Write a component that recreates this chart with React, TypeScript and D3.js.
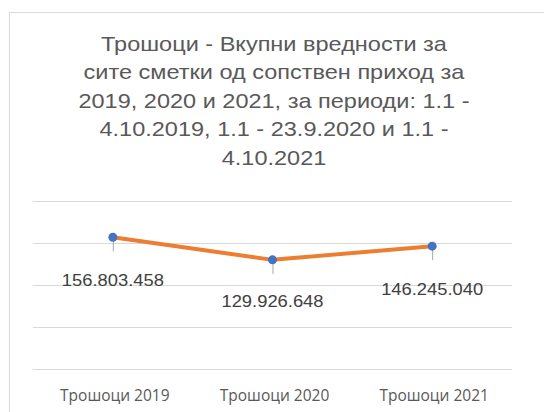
import React, { useEffect, useRef } from 'react'
import * as d3 from 'd3'

const categories = ['Трошоци 2019', 'Трошоци 2020', 'Трошоци 2021']
const values = [156803458, 129926648, 146245040]
const valueLabels = ['156.803.458', '129.926.648', '146.245.040']
const titleLines = [
    'Трошоци - Вкупни вредности за',
    'сите сметки од сопствен приход за',
    '2019, 2020 и 2021, за периоди: 1.1 -',
    '4.10.2019, 1.1 - 23.9.2020 и 1.1 -',
    '4.10.2021',
]
const yTicks = [0, 50000000, 100000000, 150000000, 200000000]
// label offset below each point (data labels were dragged in the original)
const labelDy = [49, 47, 49]

export default function App() {
    const ref = useRef<SVGSVGElement>(null)
    const width = 544
    const height = 412

    useEffect(() => {
        const svg = d3.select(ref.current)
        svg.selectAll('*').remove()

        // chart area border
        svg.append('path')
            .attr('d', `M9.5,${height} L9.5,12.5 L${width},12.5`)
            .attr('fill', 'none')
            .attr('stroke', '#d9d9d9')

        // the original title is rendered slightly stretched horizontally
        svg.append('g')
            .attr('transform', 'translate(274,0) scale(1.12,1)')
            .selectAll('text')
            .data(titleLines)
            .join('text')
            .attr('x', 0)
            .attr('y', (d, i) => 51 + i * 28.5)
            .attr('text-anchor', 'middle')
            .attr('fill', '#595959')
            .style('font', '21px "Liberation Sans", Arial, sans-serif')
            .text(d => d)

        const x = d3.scaleBand().domain(categories).range([33, 512])
        const y = d3.scaleLinear().domain([0, 200000000]).range([369, 201])
        const cx = (c: string) => (x(c) as number) + x.bandwidth() / 2

        svg.append('g')
            .selectAll('line')
            .data(yTicks)
            .join('line')
            .attr('x1', 33)
            .attr('x2', 512)
            .attr('y1', d => Math.round(y(d)) + 0.5)
            .attr('y2', d => Math.round(y(d)) + 0.5)
            .attr('stroke', '#d9d9d9')

        svg.append('g')
            .selectAll('text')
            .data(categories)
            .join('text')
            .attr('x', d => cx(d) + 2)
            .attr('y', 401)
            .attr('text-anchor', 'middle')
            .attr('fill', '#595959')
            .style('font', '15.5px "Open Sans", "Noto Sans", sans-serif')
            .text(d => d)

        const pts = categories.map((c, i) => ({ c, v: values[i], i }))

        // leader lines
        svg.append('g')
            .selectAll('line')
            .data(pts)
            .join('line')
            .attr('x1', d => cx(d.c) + 0.5)
            .attr('x2', d => cx(d.c) + 0.5)
            .attr('y1', d => y(d.v))
            .attr('y2', d => y(d.v) + 14)
            .attr('stroke', '#a6a6a6')

        const line = d3.line<{ c: string; v: number }>()
            .x(d => cx(d.c))
            .y(d => y(d.v))

        svg.append('path')
            .datum(pts)
            .attr('d', line)
            .attr('fill', 'none')
            .attr('stroke', '#ed7d31')
            .attr('stroke-width', 4)
            .attr('stroke-linecap', 'round')
            .attr('stroke-linejoin', 'round')

        svg.append('g')
            .selectAll('circle')
            .data(pts)
            .join('circle')
            .attr('cx', d => cx(d.c))
            .attr('cy', d => y(d.v))
            .attr('r', 4.5)
            .attr('fill', '#4472c4')

        svg.append('g')
            .selectAll('text')
            .data(pts)
            .join('text')
            .attr('transform', d => `translate(${cx(d.c)},${y(d.v) + labelDy[d.i]}) scale(1.08,1)`)
            .attr('text-anchor', 'middle')
            .attr('fill', '#404040')
            .style('font', '17px "Liberation Sans", Arial, sans-serif')
            .text(d => valueLabels[d.i])
    }, [])

    return (
        <svg ref={ref} width={width} height={height}
            style={{ position: 'absolute', left: 0, top: 0, background: '#fff' }} />
    )
}
